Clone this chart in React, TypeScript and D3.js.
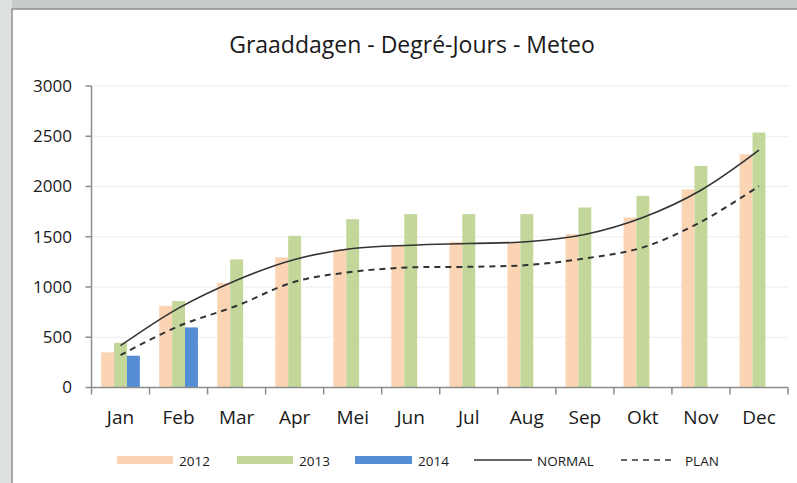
import React from "react";
import * as d3 from "d3";

const months = ["Jan", "Feb", "Mar", "Apr", "Mei", "Jun", "Jul", "Aug", "Sep", "Okt", "Nov", "Dec"];
const series = ["2012", "2013", "2014"];
const v2012 = [350, 813, 1040, 1294, 1373, 1410, 1450, 1445, 1526, 1692, 1970, 2321];
const v2013 = [445, 860, 1274, 1509, 1675, 1725, 1725, 1725, 1791, 1907, 2205, 2537];
const v2014 = [316, 598];
const normal = [416, 790, 1068, 1274, 1383, 1416, 1433, 1450, 1523, 1692, 1963, 2361];
const plan = [323, 610, 813, 1052, 1151, 1195, 1201, 1218, 1284, 1394, 1648, 2003];
const yTicks = [0, 500, 1000, 1500, 2000, 2500, 3000];
const title = "Graaddagen - Degré-Jours - Meteo";

const colors: Record<string, string> = { "2012": "#fbd4b4", "2013": "#c4d79b", "2014": "#558ed5" };
const seriesValues: Record<string, number[]> = { "2012": v2012, "2013": v2013, "2014": v2014 };

export default function App() {
  const W = 797, H = 483;
  const left = 91.5, right = 788, top = 86, bottom = 387.5;
  const x = d3.scaleBand<string>().domain(months).range([left, right]).paddingInner(0).paddingOuter(0);
  const bw = x.bandwidth();
  const w = bw / 4.5;
  const x1 = d3.scaleBand<string>().domain(series).range([0.75 * w, 3.75 * w]).padding(0);
  const y = d3.scaleLinear().domain([0, 3000]).range([bottom, top]);
  const cx = (m: string) => (x(m) as number) + bw / 2;
  const line = d3.line<number>()
    .x((_, i) => cx(months[i]))
    .y((d) => y(d))
    .curve(d3.curveCatmullRom.alpha(0.5));
  const font = "'Open Sans', sans-serif";
  const legendItems = [
    { k: "2012", type: "bar", x0: 117, x1: 173, tx: 179 },
    { k: "2013", type: "bar", x0: 237, x1: 293, tx: 299 },
    { k: "2014", type: "bar", x0: 355, x1: 412, tx: 418 },
    { k: "NORMAL", type: "line", x0: 474, x1: 532, tx: 537 },
    { k: "PLAN", type: "dash", x0: 621, x1: 671, tx: 685 },
  ];
  const ly = 460;
  return (
    <svg width={W} height={H} style={{ position: "absolute", left: 0, top: 0, display: "block" }}>
      <rect x={0} y={0} width={W} height={H} fill="#c8cccb" />
      <rect x={0} y={0} width={12} height={H} fill="#dde1e0" />
      <rect x={12} y={9} width={W} height={H} fill="#ffffff" stroke="#8e8e8e" strokeWidth={1.5} />
      <text x={412} y={53} textAnchor="middle" fontFamily={font} fontSize={23} fill="#1a1a1a">{title}</text>
      {yTicks.map((t) => (
        <g key={t}>
          {t > 0 && <line x1={left} x2={right} y1={y(t)} y2={y(t)} stroke="#ececec" strokeWidth={1} />}
          <line x1={left - 6} x2={left} y1={y(t)} y2={y(t)} stroke="#8c8c8c" strokeWidth={1.5} />
          <text x={72} y={y(t)} dy="0.35em" textAnchor="end" fontFamily={font} fontSize={17} fill="#1a1a1a">{t}</text>
        </g>
      ))}
      {months.map((m, i) => (
        <g key={m}>
          {series.map((s) => {
            const v = seriesValues[s][i];
            if (v === undefined) return null;
            return (
              <rect key={s} x={(x(m) as number) + (x1(s) as number)} y={y(v)} width={x1.bandwidth()} height={bottom - y(v)} fill={colors[s]} />
            );
          })}
        </g>
      ))}
      <line x1={left} x2={left} y1={top} y2={bottom} stroke="#8c8c8c" strokeWidth={1.5} />
      <line x1={left} x2={right} y1={bottom} y2={bottom} stroke="#8c8c8c" strokeWidth={1.5} />
      {months.concat(["_end"]).map((m, i) => {
        const xx = left + i * bw;
        return <line key={m} x1={xx} x2={xx} y1={bottom} y2={bottom + 7} stroke="#8c8c8c" strokeWidth={1.5} />;
      })}
      {months.map((m) => (
        <text key={m} x={cx(m)} y={423.5} textAnchor="middle" fontFamily={font} fontSize={19} fill="#1a1a1a">{m}</text>
      ))}
      <path d={line(normal) || ""} fill="none" stroke="#333333" strokeWidth={1.6} />
      <path d={line(plan) || ""} fill="none" stroke="#333333" strokeWidth={2} strokeDasharray="6,5" />
      {legendItems.map((it) => (
        <g key={it.k}>
          {it.type === "bar" && <rect x={it.x0} y={ly - 4} width={it.x1 - it.x0} height={8} fill={colors[it.k]} />}
          {it.type === "line" && <line x1={it.x0} x2={it.x1} y1={ly} y2={ly} stroke="#333" strokeWidth={1.5} />}
          {it.type === "dash" && <line x1={it.x0} x2={it.x1} y1={ly} y2={ly} stroke="#333" strokeWidth={1.5} strokeDasharray="6,5" />}
          <text x={it.tx} y={466} fontFamily={font} fontSize={13.5} fill="#1a1a1a">{it.k}</text>
        </g>
      ))}
    </svg>
  );
}
